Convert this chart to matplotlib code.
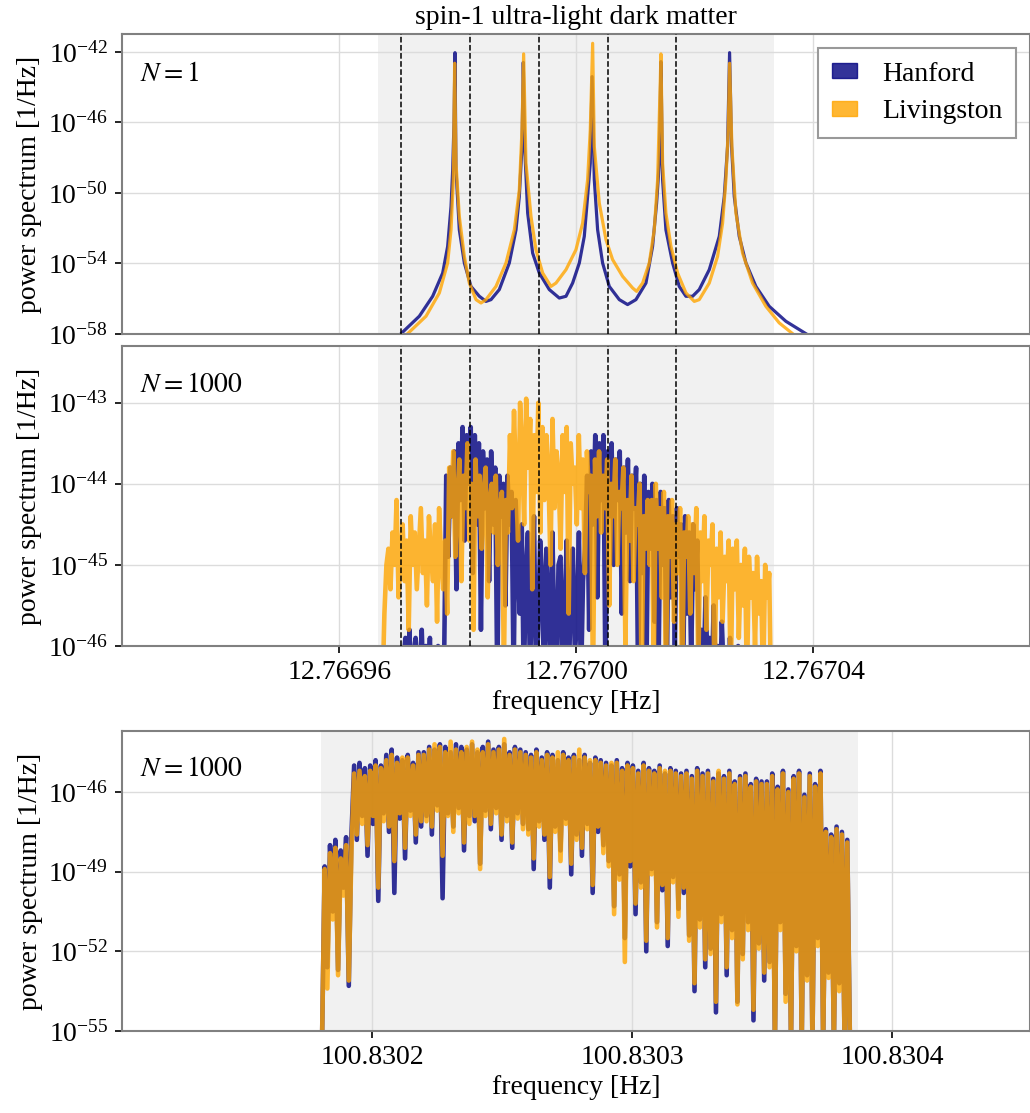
import numpy as np
import matplotlib
matplotlib.use('Agg')
import matplotlib.pyplot as plt
from matplotlib.patches import Patch
from matplotlib.ticker import NullLocator, FormatStrFormatter

plt.rcParams['font.family'] = 'serif'
plt.rcParams['font.serif'] = ['Liberation Serif', 'DejaVu Serif']
plt.rcParams['mathtext.fontset'] = 'stix'
plt.rcParams['font.size'] = 20

# ---- spin-1 ULDM, offsets in microhertz, log10 power ----
F0_LOW = 12.767
F0_HIGH = 100.8302

# N = 1 (smooth, five sidereal peaks)
n1_han_df = [-29.59, -26.50, -24.25, -22.56, -21.72, -21.15, -20.87, -20.65, -20.48,
             -20.31, -19.75, -18.90, -17.78, -16.37, -15.25, -14.40, -13.00, -11.31,
             -10.18, -9.62, -9.17, -8.95, -8.72, -8.21, -7.37, -6.25, -4.56, -2.87,
             -1.74, -0.62, 0.51, 1.35, 1.91, 2.36, 2.67, 3.04, 3.60, 4.44, 5.57, 7.26,
             8.66, 10.07, 11.76, 12.88, 13.56, 14.01, 14.29, 14.57, 15.13, 16.26,
             17.38, 18.51, 19.63, 20.76, 22.45, 24.14, 24.98, 25.54, 25.88, 26.22,
             26.67, 27.51, 28.64, 30.32, 32.57, 35.39, 38.76]
n1_han_logp = [-57.98, -56.99, -55.86, -54.54, -53.03, -50.76, -48.69, -46.04, -42.04,
               -48.69, -52.09, -53.97, -55.30, -55.86, -56.15, -56.05, -55.48, -53.97,
               -52.09, -50.20, -47.36, -42.59, -47.36, -51.14, -53.41, -54.54, -55.48,
               -55.96, -55.86, -55.11, -53.97, -52.46, -50.20, -48.31, -43.40, -49.25,
               -52.09, -53.97, -55.30, -56.05, -56.33, -56.05, -55.11, -53.03, -50.57,
               -48.31, -42.55, -49.25, -52.09, -53.97, -55.30, -55.86, -55.86, -55.48,
               -54.35, -52.46, -50.20, -47.36, -42.04, -47.36, -50.20, -52.46, -53.97,
               -55.30, -56.43, -57.28, -57.98]

n1_liv_df = [-28.47, -25.37, -23.12, -21.72, -21.15, -20.76, -20.54, -20.31, -19.75,
             -18.90, -18.06, -16.93, -16.09, -15.25, -13.56, -11.87, -10.46, -9.62,
             -9.17, -8.89, -8.50, -7.65, -6.81, -5.68, -4.28, -3.43, -1.74, -0.06,
             1.07, 1.91, 2.36, 2.76, 3.04, 3.88, 5.01, 6.13, 7.82, 9.51, 10.18, 11.20,
             12.32, 13.16, 13.73, 14.18, 14.29, 14.57, 15.13, 15.98, 17.10, 18.51,
             19.92, 20.76, 22.45, 23.85, 24.70, 25.26, 25.65, 25.88, 26.27, 26.95,
             28.07, 29.76, 32.01, 34.26, 36.51]
n1_liv_logp = [-57.98, -56.99, -55.67, -53.97, -52.09, -49.25, -42.64, -48.31, -51.33,
               -53.60, -55.11, -56.05, -56.24, -56.05, -55.30, -53.97, -52.09, -49.82,
               -46.42, -42.11, -48.31, -51.33, -53.22, -54.54, -55.30, -55.11, -54.35,
               -53.22, -51.71, -49.25, -46.42, -41.51, -47.36, -50.57, -52.65, -53.78,
               -54.73, -55.39, -55.58, -55.11, -53.97, -52.09, -49.25, -43.59, -42.11,
               -48.31, -51.14, -53.03, -54.54, -55.67, -56.15, -56.05, -55.11, -53.60,
               -51.71, -49.25, -46.42, -42.64, -47.36, -51.14, -53.41, -55.11, -56.43,
               -57.37, -57.98]

# N = 1000, low frequency (first / last bin offset in microhertz)
n1000_han_range = (-29.54, 28.36)
n1000_han_logp = [
    -46.6, -46.2, -45.9, -46.4, -45.8, -46.7, -46.1, -45.9, -46.5, -46.3, -45.8,
    -46.6, -46.0, -46.4, -45.9, -46.8, -46.2, -46.5, -46.0, -46.7, -46.3, -46.1,
    -43.9, -44.9, -43.8, -44.4, -43.6, -45.3, -43.5, -44.2, -43.3, -44.7, -43.4,
    -44.0, -43.3, -45.1,
    -43.4, -44.5, -43.5, -45.8, -43.6, -44.3, -43.7, -45.2, -43.6, -44.5, -43.8,
    -46.5, -43.9, -44.4, -44.0, -45.5, -43.9, -44.5, -44.1, -46.4, -44.2, -45.0,
    -45.6, -44.5, -46.5, -45.1, -44.6, -46.3, -45.4, -44.4, -46.5, -45.8, -44.7,
    -45.2, -46.6, -44.8, -45.5, -46.2, -44.6, -45.9, -46.5, -45.0, -44.9, -46.4,
    -45.6, -44.7, -46.5, -45.3, -44.8, -46.1, -45.7, -44.6, -46.5, -45.2,
    -44.8, -43.9, -45.8, -43.6, -44.5, -43.4, -45.4, -43.5, -44.2, -43.4, -46.5,
    -43.6, -44.4, -43.5, -45.0, -43.7, -44.2, -43.6, -45.6, -43.8, -44.6, -43.7,
    -45.2, -43.9, -44.3, -43.8, -46.5,
    -44.0, -45.1, -43.9, -46.5, -44.1, -44.8, -44.0, -45.7, -44.2, -46.3, -44.1,
    -45.0, -44.3, -46.5, -44.2, -45.4, -44.4, -46.0, -44.3, -44.9, -44.5, -46.5,
    -44.4, -45.6, -44.6, -46.2, -44.5, -45.3, -44.7, -46.5,
    -45.8, -46.5, -45.4, -46.2, -45.9, -46.6, -45.5, -46.3, -46.0, -46.7, -45.7,
    -46.4, -46.1, -46.8, -45.9, -46.5, -46.2, -46.9, -46.0, -46.6, -46.3, -47.0]

n1000_liv_range = (-32.74, 32.91)
n1000_liv_logp = [
    -46.6, -45.6, -45.0, -44.8, -45.3, -44.6, -45.0, -44.2, -45.4, -44.9, -44.5,
    -45.2, -44.7, -45.8, -44.4, -45.0, -44.6, -45.3, -44.8, -44.3, -45.1, -44.7,
    -45.5, -44.4, -44.9, -45.2, -44.5, -45.7, -44.3, -44.9, -45.3, -44.7,
    -45.6, -43.8, -44.4, -43.6, -44.9, -44.2, -43.7, -45.2, -43.9, -44.3, -43.5,
    -44.7, -44.0, -45.8, -43.7, -44.4, -43.9, -44.8, -44.1, -43.8, -45.4, -44.2,
    -44.0, -44.6, -43.9, -45.0, -44.3, -44.1, -46.3, -44.2, -44.6,
    -43.4, -44.3, -43.1, -44.0, -44.7, -43.0, -43.6, -44.5, -42.95, -43.8, -43.2,
    -45.3, -43.4, -44.1, -43.0, -44.6, -43.3,
    -44.2, -43.4, -43.9, -45.0, -43.2, -44.3, -43.6, -43.9, -44.8, -43.4, -44.1,
    -43.3, -45.6, -43.5, -44.0, -43.8, -44.5, -43.4, -44.3, -43.7, -45.1, -43.6,
    -44.1, -43.9, -46.5, -43.7, -44.4,
    -43.6, -44.6, -43.9, -44.3, -43.7, -45.5, -44.0, -44.4, -43.7, -45.0, -44.1,
    -44.3, -43.8, -46.0, -44.2, -44.7, -43.9, -45.2, -44.3, -44.5, -44.0, -46.5,
    -44.4, -44.8, -44.2,
    -45.0, -44.2, -46.3, -44.0, -44.8, -44.3, -45.4, -44.1, -46.5, -44.4, -44.9,
    -44.2, -45.7, -44.5, -45.1, -44.3, -46.5, -44.6, -44.9, -44.4,
    -45.6, -44.5, -45.1, -44.3, -46.3, -44.6, -45.2, -44.4, -45.8, -44.7, -45.0,
    -44.5, -46.5, -44.8, -45.4, -44.6, -45.7, -44.9, -45.2, -44.7,
    -46.5, -44.8, -45.3, -44.7, -45.9, -45.0, -45.5, -44.8, -46.5, -44.9, -45.4,
    -45.1, -46.0, -44.9, -45.6, -45.2, -46.5, -45.0, -45.4, -45.1, -46.8]

# N = 1000, high frequency (offsets from 100.8302 Hz in microhertz)
hf_han_range = (-19.23, 183.85)
hf_han_logp = [
    -55.5, -48.8, -52.6, -48.0, -50.5, -47.8, -52.7, -48.2, -49.6, -47.7, -53.3, -47.6,
    -45.0, -47.8, -44.9, -46.9, -45.1, -48.4, -45.0, -47.2, -44.8, -50.1, -45.0,
    -46.8, -44.6, -47.5, -44.4, -49.8, -44.7, -47.0, -44.8, -48.5, -44.6, -46.7,
    -44.9, -47.9, -44.5, -47.3,
    -44.5, -46.9, -44.3, -47.6, -44.4, -46.5, -44.2, -50.0, -44.3, -46.8, -44.5,
    -47.3, -44.2, -46.6, -44.3, -48.2, -44.4, -46.9, -44.2, -47.1, -44.5, -48.7,
    -44.3, -46.7, -44.1, -47.4, -44.4, -46.6, -44.3, -47.8, -44.2, -46.9, -44.5,
    -48.1, -44.3, -46.8, -44.4, -47.2,
    -44.5, -47.4, -44.6, -48.9, -44.4, -47.1, -44.7, -47.8, -44.5, -49.6, -44.6,
    -47.3, -44.8, -48.2, -44.5, -47.0, -44.7, -49.1, -44.6, -47.6, -44.8, -48.4,
    -44.6, -47.2, -44.9, -49.8, -44.7, -47.5, -44.8, -48.0,
    -44.9, -48.6, -45.0, -50.3, -44.8, -49.1, -45.1, -51.5, -44.9, -48.8, -45.0,
    -50.6, -45.2, -49.4, -44.9, -52.0, -45.1, -48.9, -45.2, -50.9, -45.0, -49.7,
    -45.3, -51.8, -45.1, -49.2, -45.2, -50.4, -45.3, -49.8,
    -45.2, -51.4, -45.4, -53.5, -45.1, -50.8, -45.3, -52.6, -45.2, -51.9, -45.5,
    -54.3, -45.3, -50.6, -45.4, -52.9, -45.2, -51.2, -45.6, -53.9, -45.4, -52.1,
    -45.3, -50.9, -45.7, -54.6, -45.5, -51.7, -45.6, -53.1,
    -45.6, -52.4, -45.3, -55.5, -45.8, -50.9, -45.2, -53.6, -45.9, -55.5, -45.4,
    -51.8, -45.2, -55.5, -46.1, -52.9, -45.3, -55.5, -45.7, -51.5, -45.2, -55.5,
    -47.4, -52.8, -47.6, -55.5, -47.3, -53.2, -47.5, -55.5, -47.8, -55.5]

hf_liv_range = (-19.23, 183.85)
hf_liv_logp = [
    -55.5, -48.9, -53.4, -48.3, -50.8, -48.1, -52.9, -48.5, -49.9, -48.0, -53.1, -48.2,
    -45.3, -47.6, -45.2, -47.2, -45.4, -48.0, -45.2, -46.9, -45.0, -49.6, -45.1,
    -47.1, -44.8, -47.3, -44.6, -48.6, -44.9, -46.8, -44.7, -48.1, -44.7, -46.9,
    -45.0, -47.6, -44.6, -47.1,
    -44.6, -47.1, -44.4, -47.3, -44.2, -46.7, -44.3, -48.4, -44.5, -46.9, -44.1,
    -47.5, -44.4, -46.8, -44.5, -47.9, -44.3, -47.2, -44.1, -46.9, -44.4, -48.9,
    -44.5, -46.9, -44.2, -47.2, -44.5, -46.8, -44.4, -47.6, -44.0, -47.1, -44.6,
    -47.9, -44.4, -47.0, -44.5, -47.4,
    -44.6, -47.6, -44.7, -48.5, -44.5, -47.3, -44.8, -47.6, -44.6, -49.2, -44.7,
    -47.5, -44.5, -48.6, -44.6, -47.2, -44.8, -48.7, -44.7, -47.8, -44.4, -48.1,
    -44.7, -47.4, -44.8, -49.5, -44.8, -47.3, -44.9, -48.3,
    -45.0, -48.8, -44.9, -50.6, -44.9, -49.3, -45.2, -52.4, -45.0, -48.6, -45.1,
    -50.2, -45.3, -49.6, -45.0, -51.6, -45.2, -49.1, -45.3, -51.1, -45.1, -49.5,
    -45.2, -51.5, -45.2, -49.4, -45.3, -50.7, -45.4, -49.6,
    -45.3, -51.6, -45.5, -53.2, -45.2, -51.1, -45.4, -52.3, -45.3, -52.1, -45.6,
    -53.9, -45.2, -50.9, -45.5, -52.6, -45.3, -51.5, -45.7, -54.0, -45.5, -52.3,
    -45.4, -51.2, -45.8, -54.2, -45.6, -51.9, -45.7, -52.8,
    -45.7, -52.6, -45.4, -55.5, -45.9, -51.2, -45.3, -53.9, -46.0, -55.5, -45.5,
    -52.0, -45.3, -55.5, -46.2, -53.1, -45.4, -55.5, -45.8, -51.8, -45.3, -55.5,
    -47.5, -53.0, -47.7, -55.5, -47.4, -53.5, -47.6, -55.5, -47.9, -55.5]

# sidereal harmonics (dashed) and analysis band (shaded), microhertz
sidereal_df = [-29.54, -17.94, -6.33, 5.28, 16.88]
band_low = (-33.42, 33.42)
band_high = (-19.6, 186.9)

HAN_C = 'navy'
LIV_C = 'orange'
GRID_C = '#dcdcdc'
SPAN_C = '#f1f1f1'


def style(ax):
    for s in ax.spines.values():
        s.set_color('#808080')
        s.set_linewidth(1.5)
    ax.set_yscale('log')
    ax.yaxis.set_minor_locator(NullLocator())
    ax.set_axisbelow(True)
    ax.grid(True, color=GRID_C, lw=1.0)
    ax.tick_params(axis='both', direction='out', length=5, width=1.2,
                   labelsize=20, pad=5, top=False, right=False)
    ax.set_ylabel('power spectrum [1/Hz]', fontsize=20)


def hz(base, df):
    return base + np.asarray(df) * 1e-6


def grid(base, rng, vals):
    return base + np.linspace(rng[0], rng[1], len(vals)) * 1e-6


fig = plt.figure(figsize=(10.3, 11.13), dpi=100)
L, W = 122 / 1030, 908 / 1030
ax1 = fig.add_axes([L, 1 - 334 / 1113, W, 300 / 1113])
ax2 = fig.add_axes([L, 1 - 646 / 1113, W, 300 / 1113])
ax3 = fig.add_axes([L, 1 - 1031 / 1113, W, 300 / 1113])

lw_smooth = 2.3
lw_noisy = 3.3
# top: N = 1
ax1.axvspan(*hz(F0_LOW, band_low), color=SPAN_C, zorder=0, lw=0)
ax1.plot(hz(F0_LOW, n1_han_df), 10 ** np.array(n1_han_logp), color=HAN_C, alpha=0.8,
         lw=lw_smooth, solid_joinstyle='round')
ax1.plot(hz(F0_LOW, n1_liv_df), 10 ** np.array(n1_liv_logp), color=LIV_C, alpha=0.8,
         lw=lw_smooth, solid_joinstyle='round')

# middle: N = 1000
ax2.axvspan(*hz(F0_LOW, band_low), color=SPAN_C, zorder=0, lw=0)
ax2.plot(grid(F0_LOW, n1000_han_range, n1000_han_logp), 10 ** np.array(n1000_han_logp),
         color=HAN_C, alpha=0.8, lw=lw_noisy)
ax2.plot(grid(F0_LOW, n1000_liv_range, n1000_liv_logp), 10 ** np.array(n1000_liv_logp),
         color=LIV_C, alpha=0.8, lw=lw_noisy)

for ax in (ax1, ax2):
    for f in hz(F0_LOW, sidereal_df):
        ax.axvline(f, color='k', ls='--', lw=1.1, zorder=3)
    style(ax)
    ax.set_xlim(F0_LOW - 76.7e-6, F0_LOW + 76.6e-6)
    ax.set_xticks([12.76696, 12.76700, 12.76704])
    ax.xaxis.set_major_formatter(FormatStrFormatter('%.5f'))

ax1.set_ylim(1e-58, 10 ** -40.98)
ax1.set_yticks([1e-42, 1e-46, 1e-50, 1e-54, 1e-58])
ax1.tick_params(axis='x', length=0, labelbottom=False)
ax1.set_title('spin-1 ultra-light dark matter', fontsize=20, pad=7)
ax1.text(0.02, 0.865, r'$N=1$', transform=ax1.transAxes, va='center', fontsize=20)
handles = [Patch(color=HAN_C, alpha=0.8, label='Hanford'),
           Patch(color=LIV_C, alpha=0.8, label='Livingston')]
leg = ax1.legend(handles=handles, loc='upper right', fontsize=20, fancybox=False,
                 framealpha=1, edgecolor='#999999', handlelength=0.9, handleheight=0.45,
                 handletextpad=0.9, borderpad=0.5, labelspacing=0.45)
leg.get_frame().set_linewidth(1.5)

ax2.set_ylim(1e-46, 10 ** -42.3)
ax2.set_yticks([1e-43, 1e-44, 1e-45, 1e-46])
ax2.set_xlabel('frequency [Hz]', fontsize=20)
ax2.text(0.02, 0.87, r'$N=1000$', transform=ax2.transAxes, va='center', fontsize=20)

# bottom: high-frequency candidate
ax3.axvspan(*hz(F0_HIGH, band_high), color=SPAN_C, zorder=0, lw=0)
ax3.plot(grid(F0_HIGH, hf_han_range, hf_han_logp), 10 ** np.array(hf_han_logp),
         color=HAN_C, alpha=0.8, lw=lw_noisy)
ax3.plot(grid(F0_HIGH, hf_liv_range, hf_liv_logp), 10 ** np.array(hf_liv_logp),
         color=LIV_C, alpha=0.8, lw=lw_noisy)
style(ax3)
ax3.set_xlim(F0_HIGH - 96.15e-6, F0_HIGH + 253.1e-6)
ax3.set_xticks([100.8302, 100.8303, 100.8304])
ax3.xaxis.set_major_formatter(FormatStrFormatter('%.4f'))
ax3.set_ylim(1e-55, 10 ** -43.7)
ax3.set_yticks([1e-46, 1e-49, 1e-52, 1e-55])
ax3.set_xlabel('frequency [Hz]', fontsize=20)
ax3.text(0.02, 0.87, r'$N=1000$', transform=ax3.transAxes, va='center', fontsize=20)

fig.savefig('out.png', dpi=100)
